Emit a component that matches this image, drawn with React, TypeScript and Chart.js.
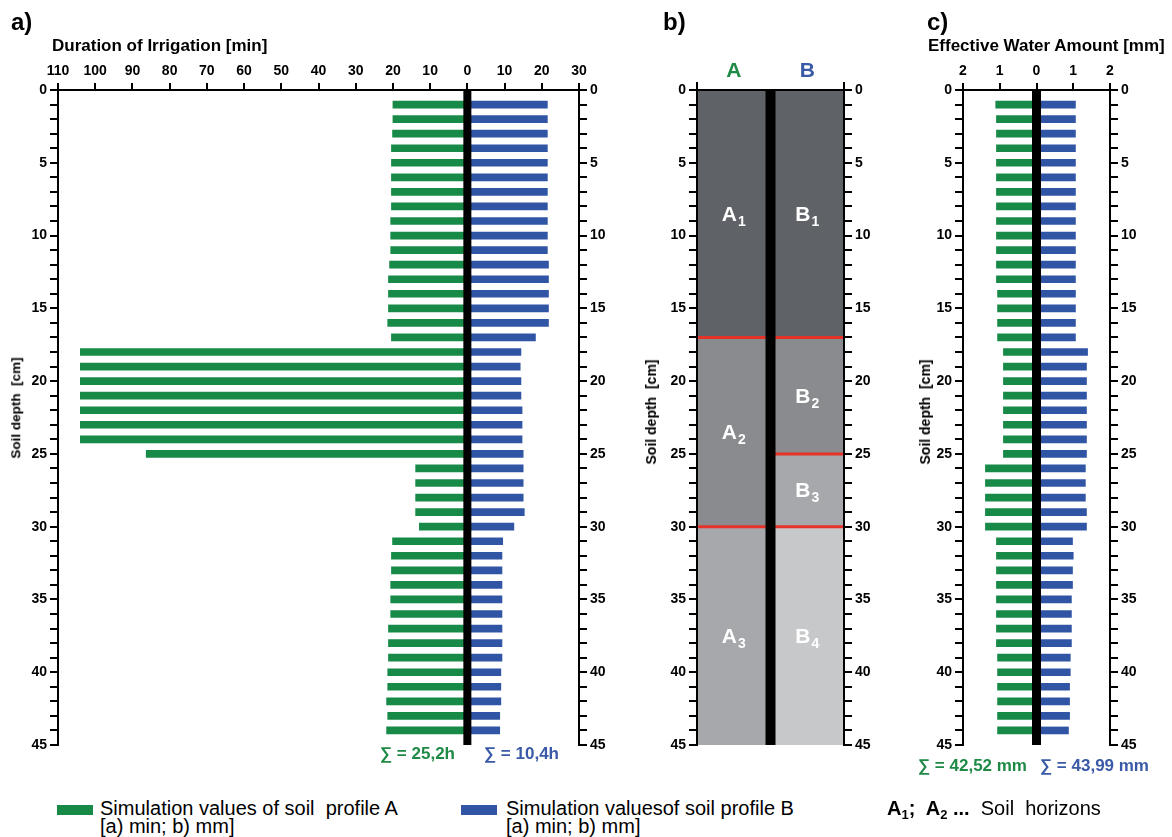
import React, { useEffect, useRef } from 'react';
import { Chart, registerables } from 'chart.js';

Chart.register(...registerables);

const FONT = '"Liberation Sans", Arial, sans-serif';

// ---- data ----
const depths = [1, 2, 3, 4, 5, 6, 7, 8, 9, 10, 11, 12, 13, 14, 15, 16, 17, 18, 19, 20, 21, 22, 23, 24, 25, 26, 27, 28, 29, 30, 31, 32, 33, 34, 35, 36, 37, 38, 39, 40, 41, 42, 43, 44];

// a) Duration of irrigation [min]
const irrigationA = [20.0, 20.0, 20.1, 20.4, 20.4, 20.4, 20.4, 20.4, 20.6, 20.6, 20.6, 20.9, 21.2, 21.2, 21.2, 21.4, 20.4, 104, 104, 104, 104, 104, 104, 104, 86.3, 13.9, 13.9, 13.9, 13.9, 12.9, 20.1, 20.4, 20.4, 20.6, 20.6, 20.6, 21.2, 21.2, 21.2, 21.4, 21.4, 21.7, 21.4, 21.7];
const irrigationB = [21.5, 21.5, 21.5, 21.5, 21.5, 21.5, 21.5, 21.5, 21.5, 21.5, 21.5, 21.8, 21.8, 21.8, 21.8, 21.8, 18.3, 14.4, 14.2, 14.4, 14.4, 14.7, 14.7, 14.7, 15.0, 15.0, 15.0, 15.0, 15.3, 12.5, 9.5, 9.3, 9.3, 9.3, 9.3, 9.3, 9.3, 9.3, 9.3, 9.0, 9.0, 9.0, 8.7, 8.7];

// c) Effective water amount [mm]
const waterA = [1.11, 1.09, 1.09, 1.09, 1.09, 1.09, 1.09, 1.09, 1.09, 1.09, 1.09, 1.09, 1.09, 1.06, 1.06, 1.06, 1.06, 0.90, 0.90, 0.90, 0.90, 0.90, 0.90, 0.90, 0.90, 1.39, 1.39, 1.39, 1.39, 1.39, 1.09, 1.09, 1.09, 1.09, 1.09, 1.09, 1.09, 1.09, 1.06, 1.06, 1.06, 1.06, 1.06, 1.06];
const waterB = [1.06, 1.06, 1.06, 1.06, 1.06, 1.06, 1.06, 1.06, 1.06, 1.06, 1.06, 1.06, 1.06, 1.06, 1.06, 1.06, 1.06, 1.39, 1.36, 1.36, 1.36, 1.36, 1.36, 1.36, 1.36, 1.33, 1.33, 1.33, 1.36, 1.36, 0.98, 1.00, 0.98, 0.98, 0.95, 0.95, 0.95, 0.95, 0.92, 0.92, 0.90, 0.90, 0.90, 0.87];

// axes
const depthRange = [0, 45];
const depthStep = 1;
const depthLabelEvery = 5;
const irrigationRange = [-110, 30];
const irrigationStep = 10;
const waterRange = [-2, 2];
const waterStep = 1;

// b) soil horizons
const profiles = ['A', 'B'];
const horizonsA = ['A1', 'A2', 'A3'];
const boundsA = [0, 17, 30, 45];
const horizonsB = ['B1', 'B2', 'B3', 'B4'];
const boundsB = [0, 17, 25, 30, 45];

// ---- styles ----
const GREEN = '#178a48';
const BLUE = '#3155a5';
const GREEN_TXT = '#1f8a46';
const BLUE_TXT = '#3a5aa8';
const RED = '#e5332a';
const fillA = ['#5f6266', '#898b8f', '#a6a8ab'];
const fillB = ['#5f6266', '#898b8f', '#a6a8ab', '#c7c8ca'];

const CANVAS_H = 760;
const AXIS_TOP_H = 90;
const BOTTOM_PAD = 15;
const TICK_FONT = { family: FONT, size: 14, weight: 'bold' };

function depthAxis(position: 'left' | 'right', width: number) {
  return {
    type: 'linear',
    position,
    reverse: true,
    min: depthRange[0],
    max: depthRange[1],
    offset: false,
    ticks: {
      stepSize: depthStep,
      autoSkip: false,
      maxTicksLimit: 1000,
      padding: 3,
      color: '#000',
      font: TICK_FONT,
      callback: (v: number) => (v % depthLabelEvery === 0 ? String(v) : ''),
    },
    grid: { drawOnChartArea: false, drawTicks: true, tickLength: 8, color: '#000', lineWidth: 2, offset: false },
    border: { display: true, color: '#000', width: 2, z: 1 },
    afterFit: (s: any) => {
      s.width = width;
    },
  };
}

function valueAxis(range: number[], step: number) {
  return {
    type: 'linear',
    position: 'top',
    min: range[0],
    max: range[1],
    offset: false,
    ticks: {
      stepSize: step,
      autoSkip: false,
      maxRotation: 0,
      padding: 3,
      color: '#000',
      font: TICK_FONT,
      callback: (v: number) => String(Math.abs(v)),
    },
    grid: { drawOnChartArea: false, tickLength: 7, color: '#000', lineWidth: 2, offset: false },
    border: { display: true, color: '#000', width: 2, z: 1 },
    afterFit: (s: any) => {
      s.height = AXIS_TOP_H;
    },
  };
}

type BarsProps = {
  valuesA: number[];
  valuesB: number[];
  range: number[];
  step: number;
  width: number;
  leftW: number;
  rightW: number;
  centerW: number;
};

function ProfileBars({ valuesA, valuesB, range, step, width, leftW, rightW, centerW }: BarsProps) {
  const ref = useRef<HTMLCanvasElement>(null);
  useEffect(() => {
    const chart = new Chart(ref.current as HTMLCanvasElement, {
      type: 'bar',
      data: {
        datasets: [
          {
            label: 'A',
            data: depths.map((d, i) => ({ x: -valuesA[i], y: d })),
            backgroundColor: GREEN,
            borderWidth: 0,
            barThickness: 7,
            grouped: false,
          },
          {
            label: 'B',
            data: depths.map((d, i) => ({ x: valuesB[i], y: d })),
            backgroundColor: BLUE,
            borderWidth: 0,
            barThickness: 7,
            grouped: false,
          },
          {
            type: 'line',
            label: 'centre',
            data: [
              { x: 0, y: depthRange[0] },
              { x: 0, y: depthRange[1] },
            ],
            borderColor: '#000',
            borderWidth: centerW,
            borderCapStyle: 'butt',
            pointRadius: 0,
            pointHoverRadius: 0,
            order: -1,
          },
        ],
      } as any,
      options: {
        indexAxis: 'y',
        responsive: false,
        animation: false,
        events: [],
        layout: { padding: { top: 0, left: 0, right: 0, bottom: BOTTOM_PAD } },
        plugins: { legend: { display: false }, tooltip: { enabled: false } },
        scales: {
          x: valueAxis(range, step),
          y: depthAxis('left', leftW),
          y2: depthAxis('right', rightW),
        },
      } as any,
    });
    return () => chart.destroy();
  }, []);
  return <canvas ref={ref} width={width} height={CANVAS_H} style={{ display: 'block', width, height: CANVAS_H }} />;
}

const horizonNames = [...horizonsA, ...horizonsB];

const horizonLabelPlugin = {
  id: 'horizonLabels',
  afterDatasetsDraw(chart: any) {
    const meta = chart.getDatasetMeta(0);
    const ctx = chart.ctx as CanvasRenderingContext2D;
    meta.data.forEach((bar: any, i: number) => {
      const { x, y, base } = bar.getProps(['x', 'y', 'base'], true);
      const name = horizonNames[i];
      const main = name.slice(0, 1);
      const sub = name.slice(1);
      const cy = (y + base) / 2;
      ctx.save();
      ctx.fillStyle = '#ffffff';
      ctx.textBaseline = 'alphabetic';
      ctx.textAlign = 'left';
      ctx.font = `bold 21px ${FONT}`;
      const w1 = ctx.measureText(main).width;
      ctx.font = `bold 14px ${FONT}`;
      const w2 = ctx.measureText(sub).width;
      const start = x - (w1 + w2 + 1) / 2;
      ctx.font = `bold 21px ${FONT}`;
      ctx.fillText(main, start, cy + 7);
      ctx.font = `bold 14px ${FONT}`;
      ctx.fillText(sub, start + w1 + 1, cy + 12);
      ctx.restore();
    });
  },
};

function HorizonChart() {
  const ref = useRef<HTMLCanvasElement>(null);
  useEffect(() => {
    const bars = [
      ...horizonsA.map((_, i) => ({ x: 0.5, y: [boundsA[i], boundsA[i + 1]] })),
      ...horizonsB.map((_, i) => ({ x: 1.5, y: [boundsB[i], boundsB[i + 1]] })),
    ];
    const redA = boundsA.slice(1, -1).map((b) => ({
      type: 'line',
      label: 'boundary A',
      data: [
        { x: 0, y: b },
        { x: 1, y: b },
      ],
      borderColor: RED,
      borderWidth: 3,
      borderCapStyle: 'butt',
      pointRadius: 0,
      order: -1,
    }));
    const redB = boundsB.slice(1, -1).map((b) => ({
      type: 'line',
      label: 'boundary B',
      data: [
        { x: 1, y: b },
        { x: 2, y: b },
      ],
      borderColor: RED,
      borderWidth: 3,
      borderCapStyle: 'butt',
      pointRadius: 0,
      order: -1,
    }));
    const chart = new Chart(ref.current as HTMLCanvasElement, {
      type: 'bar',
      data: {
        datasets: [
          {
            label: 'horizons',
            data: bars,
            backgroundColor: [...fillA, ...fillB],
            borderWidth: 0,
            barThickness: 74,
            grouped: false,
          },
          ...redA,
          ...redB,
          {
            type: 'line',
            label: 'centre',
            data: [
              { x: 1, y: depthRange[0] },
              { x: 1, y: depthRange[1] },
            ],
            borderColor: '#000',
            borderWidth: 10,
            borderCapStyle: 'butt',
            pointRadius: 0,
            order: -2,
          },
        ],
      } as any,
      options: {
        responsive: false,
        animation: false,
        events: [],
        layout: { padding: { top: 0, left: 0, right: 0, bottom: BOTTOM_PAD } },
        plugins: { legend: { display: false }, tooltip: { enabled: false } },
        scales: {
          x: {
            type: 'linear',
            position: 'top',
            min: 0,
            max: profiles.length,
            offset: false,
            afterBuildTicks: (s: any) => {
              s.ticks = [0, ...profiles.map((_, i) => i + 0.5), profiles.length].map((value) => ({ value }));
            },
            ticks: {
              autoSkip: false,
              maxRotation: 0,
              padding: 0,
              font: { family: FONT, size: 21, weight: 'bold', lineHeight: 1 },
              color: (c: any) => (c.tick && c.tick.value < 1 ? GREEN_TXT : BLUE_TXT),
              callback: (v: number) => profiles[v - 0.5] ?? '',
            },
            grid: {
              drawOnChartArea: false,
              tickLength: 8,
              lineWidth: 2,
              offset: false,
              color: (c: any) =>
                c.tick && (c.tick.value === 0 || c.tick.value === profiles.length) ? '#000' : 'rgba(0,0,0,0)',
            },
            border: { display: true, color: '#000', width: 2, z: 1 },
            afterFit: (s: any) => {
              s.height = AXIS_TOP_H;
            },
          },
          y: depthAxis('left', 72),
          y2: depthAxis('right', 51),
        },
      } as any,
      plugins: [horizonLabelPlugin],
    });
    return () => chart.destroy();
  }, []);
  return <canvas ref={ref} width={270} height={CANVAS_H} style={{ display: 'block', width: 270, height: CANVAS_H }} />;
}

type TProps = { x: number; y: number; size: number; bold?: boolean; color?: string; children: React.ReactNode; lh?: number | string };
function T({ x, y, size, bold, color, children, lh }: TProps) {
  return (
    <div
      style={{
        position: 'absolute',
        left: x,
        top: y,
        fontSize: size,
        fontWeight: bold ? 700 : 400,
        color: color || '#000',
        lineHeight: lh === undefined ? 1 : lh,
        whiteSpace: 'pre',
      }}
    >
      {children}
    </div>
  );
}

function VTitle({ cx, cy, size }: { cx: number; cy: number; size: number }) {
  return (
    <div
      style={{
        position: 'absolute',
        left: cx,
        top: cy,
        transform: 'translate(-50%, -50%) rotate(-90deg)',
        fontSize: size,
        fontWeight: 700,
        lineHeight: 1,
        whiteSpace: 'pre',
      }}
    >
      {'Soil depth  [cm]'}
    </div>
  );
}

const sub: React.CSSProperties = { fontSize: 13, position: 'relative', top: 4 };

export default function App() {
  return (
    <div
      style={{
        position: 'absolute',
        left: 0,
        top: 0,
        width: 1172,
        height: 837,
        background: '#fff',
        fontFamily: FONT,
        color: '#000',
        overflow: 'hidden',
      }}
    >
      <div style={{ position: 'absolute', left: 0, top: 0 }}>
        <ProfileBars valuesA={irrigationA} valuesB={irrigationB} range={irrigationRange} step={irrigationStep} width={625} leftW={58} rightW={46} centerW={8} />
      </div>
      <div style={{ position: 'absolute', left: 625, top: 0 }}>
        <HorizonChart />
      </div>
      <div style={{ position: 'absolute', left: 895, top: 0 }}>
        <ProfileBars valuesA={waterA} valuesB={waterB} range={waterRange} step={waterStep} width={277} leftW={68} rightW={62} centerW={9} />
      </div>

      <T x={11} y={10} size={24} bold>a)</T>
      <T x={663} y={10} size={24} bold>b)</T>
      <T x={927} y={10} size={24} bold>c)</T>

      <T x={52} y={37} size={17} bold>Duration of Irrigation [min]</T>
      <T x={928} y={37} size={17} bold>Effective Water Amount [mm]</T>

      <VTitle cx={16} cy={408} size={13.5} />
      <VTitle cx={651} cy={412} size={14} />
      <VTitle cx={925} cy={412} size={14} />

      <T x={380} y={745} size={17} bold color={GREEN_TXT}>∑ = 25,2h</T>
      <T x={484} y={745} size={17} bold color={BLUE_TXT}>∑ = 10,4h</T>
      <T x={918} y={757} size={17} bold color={GREEN_TXT}>∑ = 42,52 mm</T>
      <T x={1040} y={757} size={17} bold color={BLUE_TXT}>∑ = 43,99 mm</T>

      <div style={{ position: 'absolute', left: 57, top: 805, width: 36, height: 10, background: GREEN }} />
      <T x={100} y={799} size={20} lh="18px">{'Simulation values of soil  profile A\n[a) min; b) mm]'}</T>
      <div style={{ position: 'absolute', left: 461, top: 805, width: 36, height: 10, background: BLUE }} />
      <T x={506} y={799} size={20} lh="18px">{'Simulation valuesof soil profile B\n[a) min; b) mm]'}</T>
      <T x={887} y={799} size={20} lh="18px">
        <b>
          A<span style={sub}>1</span>;  A<span style={sub}>2</span> ...
        </b>
        {'  Soil  horizons'}
      </T>
    </div>
  );
}
